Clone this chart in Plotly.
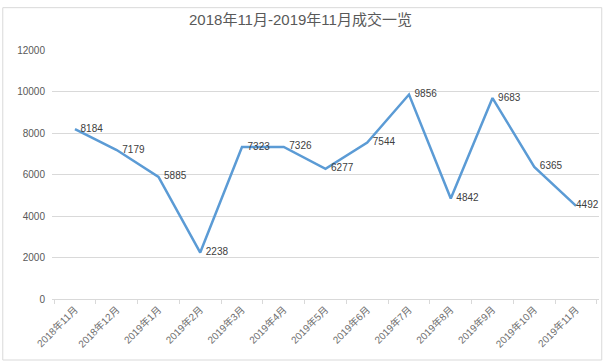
import plotly.graph_objects as go

months = ["2018年11月", "2018年12月", "2019年1月", "2019年2月", "2019年3月", "2019年4月",
          "2019年5月", "2019年6月", "2019年7月", "2019年8月", "2019年9月", "2019年10月", "2019年11月"]
volumes = [8184, 7179, 5885, 2238, 7323, 7326, 6277, 7544, 9856, 4842, 9683, 6365, 4492]
y_ticks = [0, 2000, 4000, 6000, 8000, 10000, 12000]

FONT = "Liberation Sans, Noto Sans CJK SC, sans-serif"

labels = [f"  {v}" for v in volumes]
labels[-1] = str(volumes[-1])

fig = go.Figure()
fig.add_trace(go.Scatter(
    x=months, y=volumes, mode="lines+text",
    line=dict(color="#5B9BD5", width=2.5),
    text=labels,
    textposition="middle right",
    textfont=dict(family=FONT, size=10, color="#404040"),
    cliponaxis=False,
    showlegend=False,
))

fig.update_layout(
    width=607, height=363,
    margin=dict(l=52, r=8, t=50, b=64, autoexpand=False),
    paper_bgcolor="white", plot_bgcolor="white",
    title=dict(text="2018年11月-2019年11月成交一览", x=0.495, xanchor="center", y=0.945, yanchor="middle",
               font=dict(family=FONT, size=15, color="#595959")),
    font=dict(family=FONT, color="#595959"),
    xaxis=dict(type="category", range=[-0.55, len(months) - 0.45], tickangle=-45, tickson="boundaries",
               automargin=False, ticks="outside", ticklen=4, tickcolor="#D9D9D9",
               showline=True, linecolor="#D9D9D9", linewidth=1,
               showgrid=False, tickfont=dict(family=FONT, size=10, color="#6E6E6E")),
    yaxis=dict(range=[0, 12000], tickvals=y_ticks, ticktext=[str(v) for v in y_ticks],
               showgrid=True, gridcolor="#D9D9D9", gridwidth=1, automargin=False,
               zeroline=False, showline=False, ticks="", ticklabelstandoff=6,
               tickfont=dict(family=FONT, size=10, color="#595959")),
    shapes=[dict(type="rect", xref="paper", yref="paper", x0=-0.09, x1=1.005, y0=-0.245, y1=1.17,
                 line=dict(color="#D9D9D9", width=1))],
)

fig.write_html("out.html")
